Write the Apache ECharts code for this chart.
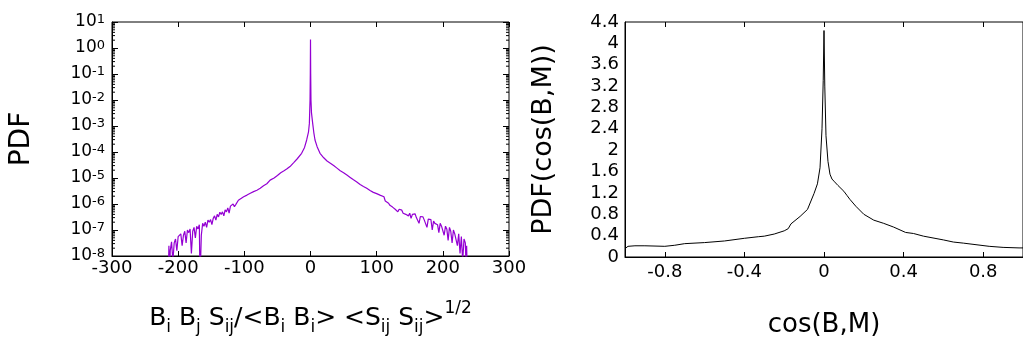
<!DOCTYPE html>
<html>
<head>
<meta charset="utf-8">
<script src="https://cdn.jsdelivr.net/npm/echarts@6/dist/echarts.min.js"></script>
<style>
html,body{margin:0;padding:0;background:#fff;}
#chart{width:1023px;height:343px;}
</style>
</head>
<body>
<div id="chart"></div>
<script>
// ---- Left panel: PDF of B_i B_j S_ij / ... (log scale) ----
const leftX = [
  -215, -214, -213, -212, -210, -208, -206, -204, -202, -200, -198, -196, -194, -192, -190, -188, -186, -184, -182, -180,
  -178, -176, -174, -172, -170, -168, -167, -165, -163, -161, -159, -157, -155, -153, -151, -149, -147, -145, -143, -141,
  -139, -137, -135, -133, -131, -129, -127, -125, -123, -121, -119, -117, -115, -113, -111, -109, -106, -101, -96, -91,
  -86, -81, -76, -71, -66, -61, -55, -50, -45, -40, -36, -31, -25, -20, -13.4, -9, -5.8, -3, -1.7, -0.7, -0.3,
  0,
  0.3, 0.7, 1.5, 3.3, 5, 6.8, 10, 14.4, 20, 25, 30, 35, 40, 45, 50, 55, 60, 65, 70, 75, 80, 85, 90, 95, 100, 105, 108, 111,
  113, 116, 118, 120, 122, 124, 126, 128, 130, 132, 134, 136, 138, 140, 142, 144, 146, 148, 150, 152, 154, 156, 158, 160,
  162, 164, 166, 168, 170, 172, 174, 176, 178, 180, 182, 184, 186, 188, 190, 192, 194, 196, 198, 200, 202, 204, 206, 208,
  210, 212, 214, 216, 218, 220, 222, 224, 226, 228, 230, 232, 234, 235, 236, 237
];
const leftPdf = [
  1e-9, 2.5e-8, 1e-9, 1.6e-8, 3.5e-8, 6.3e-9, 3.2e-8, 4.5e-8, 1.6e-8, 5.6e-8, 5e-8, 7.1e-8, 2.5e-8, 6.3e-8, 8.9e-8, 3.2e-8, 1e-7, 7.9e-8, 1.1e-7, 1.26e-8,
  8.9e-8, 1.26e-7, 5e-8, 1.4e-7, 1.1e-7, 1.6e-7, 1e-9, 6.3e-8, 1.8e-7, 1.4e-7, 2e-7, 1.26e-7, 2.4e-7, 2e-7, 2.5e-7, 1.6e-7, 2.8e-7, 3.5e-7, 2.4e-7, 4e-7,
  3.2e-7, 4.8e-7, 4e-7, 5e-7, 3.5e-7, 6e-7, 5e-7, 7.1e-7, 4.5e-7, 8.3e-7, 7.1e-7, 1e-6, 7.9e-7, 9.5e-7, 1e-6, 1.4e-6, 1.6e-6, 1.9e-6, 2.2e-6, 2.6e-6,
  3e-6, 3.4e-6, 4e-6, 5e-6, 6e-6, 8.3e-6, 1e-5, 1.25e-5, 1.6e-5, 1.9e-5, 2.2e-5, 2.75e-5, 4e-5, 5.5e-5, 8.9e-5, 1.5e-4, 2.9e-4, 6e-4, 1.26e-3, 0.01, 0.1,
  2.1,
  0.1, 0.01, 3.2e-3, 1.26e-3, 5.6e-4, 2.9e-4, 1.6e-4, 8.9e-5, 6e-5, 4.5e-5, 3.7e-5, 3e-5, 2.4e-5, 1.9e-5, 1.6e-5, 1.3e-5, 1.05e-5, 8.5e-6, 7e-6, 5.6e-6, 4.7e-6, 4e-6, 3.3e-6, 2.8e-6, 2.5e-6, 2.2e-6, 2.1e-6, 1.9e-6,
  1.3e-6, 1.2e-6, 1.07e-6, 8.9e-7, 9.5e-7, 7.6e-7, 8.3e-7, 6.3e-7, 7.1e-7, 5e-7, 6.3e-7, 5.4e-7, 5.8e-7, 4.4e-7, 5.2e-7, 4e-7, 4.7e-7, 3.5e-7, 4.4e-7, 2.8e-7, 4e-7, 3.5e-7, 4.2e-7, 3e-7,
  3.5e-7, 1.8e-7, 3.3e-7, 2.8e-7, 3.2e-7, 2.4e-7, 2.8e-7, 1.26e-7, 2.6e-7, 2.2e-7, 2.5e-7, 1e-7, 2.2e-7, 1.8e-7, 2.1e-7, 1.6e-7, 7.9e-8, 1.8e-7, 1.4e-7, 1.6e-7, 6.3e-8, 1.4e-7, 1.1e-7, 4e-8,
  1.26e-7, 8.9e-8, 3.2e-8, 1e-7, 7.1e-8, 7.9e-8, 2.5e-8, 7.1e-8, 1.26e-8, 5.6e-8, 6.3e-9, 4.5e-8, 3.2e-8, 5e-9, 2.5e-8, 1e-9
];

// ---- Right panel: PDF(cos(B,M)) ----
const cosX = [
  -1, -0.985, -0.95, -0.9, -0.8, -0.75, -0.7, -0.6, -0.5, -0.4, -0.33, -0.3, -0.25, -0.2, -0.18, -0.166, -0.12, -0.083, -0.05,
  -0.033, -0.02, -0.01, -0.004, 0, 0.004, 0.01, 0.02, 0.03, 0.04, 0.05, 0.058, 0.07, 0.1, 0.116, 0.13, 0.16, 0.2, 0.25, 0.3,
  0.35, 0.41, 0.45, 0.5, 0.6, 0.65, 0.7, 0.83, 0.9, 0.98, 1
];
const cosPdf = [
  0.157, 0.2, 0.21, 0.21, 0.2, 0.22, 0.25, 0.27, 0.3, 0.35, 0.38, 0.39, 0.43, 0.49, 0.53, 0.62, 0.76, 0.89, 1.19,
  1.37, 1.67, 2.4, 3.3, 4.24, 3.2, 2.27, 1.79, 1.55, 1.46, 1.42, 1.4, 1.34, 1.23, 1.15, 1.08, 0.95, 0.8, 0.69, 0.63,
  0.56, 0.46, 0.44, 0.39, 0.32, 0.28, 0.26, 0.2, 0.18, 0.17, 0.17
];
const cosXTicks = [-0.8, -0.4, 0, 0.4, 0.8];

const FONT = 'DejaVu Sans';
const chart = echarts.init(document.getElementById('chart'), null, {renderer: 'canvas'});

const leftData = leftX.map((x, i) => [x, leftPdf[i]]);
const rightData = cosX.map((x, i) => [x, cosPdf[i]]);

// minor tick positions for log axis (2..9 x 10^k)
const minorVals = [];
for (let k = -8; k <= 0; k++) for (let m = 2; m <= 9; m++) minorVals.push([0, m * Math.pow(10, k)]);

const supLabel = v => {
  const e = Math.round(Math.log10(v));
  return '{a|10}{b|' + e + '}';
};

const option = {
  animation: false,
  backgroundColor: '#fff',
  grid: [
    {left: 112, top: 22, width: 397, height: 234, show: true, borderColor: '#000', borderWidth: 1, backgroundColor: 'transparent'},
    {left: 625, top: 22, width: 403, height: 244, show: true, borderColor: '#000', borderWidth: 1, backgroundColor: 'transparent'}
  ],
  xAxis: [
    {
      gridIndex: 0, type: 'value', min: -300, max: 300, interval: 100, position: 'bottom',
      axisLine: {show: true, onZero: false, lineStyle: {color: '#000', width: 1}},
      axisTick: {show: true, inside: true, length: 5, lineStyle: {color: '#000'}},
      axisLabel: {color: '#000', fontFamily: FONT, fontSize: 18, margin: 3},
      splitLine: {show: false},
      name: '{m|B}{s|i}{m| B}{s|j}{m| S}{s|ij}{m|/<B}{s|i}{m| B}{s|i}{m|> <S}{s|ij}{m| S}{s|ij}{m|>}{p|1/2}',
      nameLocation: 'middle', nameGap: 44,
      nameTextStyle: {
        color: '#000', fontFamily: FONT,
        rich: {
          m: {fontSize: 25, lineHeight: 36, verticalAlign: 'middle', fontFamily: FONT, color: '#000'},
          s: {fontSize: 17, lineHeight: 17, verticalAlign: 'bottom', fontFamily: FONT, color: '#000'},
          p: {fontSize: 17, lineHeight: 17, verticalAlign: 'top', fontFamily: FONT, color: '#000'}
        }
      }
    },
    {
      gridIndex: 0, type: 'value', min: -300, max: 300, interval: 100, position: 'top',
      axisLine: {show: false, onZero: false},
      axisTick: {show: true, inside: true, length: 5, lineStyle: {color: '#000'}},
      axisLabel: {show: false}, splitLine: {show: false}
    },
    {
      gridIndex: 1, type: 'value', min: -1, max: 1, position: 'bottom',
      axisLine: {show: true, onZero: false, lineStyle: {color: '#000', width: 1}},
      axisTick: {show: true, inside: true, length: 5, customValues: cosXTicks, lineStyle: {color: '#000'}},
      axisLabel: {color: '#000', fontFamily: FONT, fontSize: 18, margin: 6, customValues: cosXTicks},
      splitLine: {show: false},
      name: 'cos(B,M)', nameLocation: 'middle', nameGap: 55,
      nameTextStyle: {color: '#000', fontFamily: FONT, fontSize: 26}
    },
    {
      gridIndex: 1, type: 'value', min: -1, max: 1, position: 'top',
      axisLine: {show: false, onZero: false},
      axisTick: {show: true, inside: true, length: 5, customValues: cosXTicks, lineStyle: {color: '#000'}},
      axisLabel: {show: false}, splitLine: {show: false}
    }
  ],
  yAxis: [
    {
      gridIndex: 0, type: 'log', logBase: 10, min: 1e-8, max: 10, interval: 1, position: 'left',
      axisLine: {show: true, onZero: false, lineStyle: {color: '#000', width: 1}},
      axisTick: {show: true, inside: true, length: 6, lineStyle: {color: '#000'}},
      axisLabel: {
        color: '#000', fontFamily: FONT, margin: 7, formatter: supLabel,
        rich: {
          a: {fontSize: 17, lineHeight: 17, padding: [8, 0, 0, 0], verticalAlign: 'bottom', fontFamily: FONT, color: '#000'},
          b: {fontSize: 13, lineHeight: 13, verticalAlign: 'top', fontFamily: FONT, color: '#000'}
        }
      },
      splitLine: {show: false},
      name: 'PDF', nameLocation: 'middle', nameGap: 76, nameRotate: 90,
      nameTextStyle: {color: '#000', fontFamily: FONT, fontSize: 28}
    },
    {
      gridIndex: 0, type: 'log', logBase: 10, min: 1e-8, max: 10, interval: 1, position: 'right',
      axisLine: {show: false, onZero: false},
      axisTick: {show: true, inside: true, length: 6, lineStyle: {color: '#000'}},
      axisLabel: {show: false}, splitLine: {show: false}
    },
    {
      gridIndex: 1, type: 'value', min: 0, max: 4.4, interval: 0.4, position: 'left',
      axisLine: {show: true, onZero: false, lineStyle: {color: '#000', width: 1}},
      axisTick: {show: false},
      axisLabel: {color: '#000', fontFamily: FONT, fontSize: 18, margin: 6},
      splitLine: {show: false},
      name: 'PDF(cos(B,M))', nameLocation: 'middle', nameGap: 68, nameRotate: 90,
      nameTextStyle: {color: '#000', fontFamily: FONT, fontSize: 27}
    }
  ],
  series: [
    {
      type: 'line', xAxisIndex: 0, yAxisIndex: 0, data: leftData,
      showSymbol: false, symbol: 'none', clip: true,
      lineStyle: {color: '#9400d3', width: 1.2}
    },
    {
      type: 'custom', xAxisIndex: 0, yAxisIndex: 0, data: minorVals, silent: true, clip: false,
      renderItem: function (params, api) {
        const y = api.coord([0, api.value(1)])[1];
        const xl = api.coord([-300, api.value(1)])[0];
        const xr = api.coord([300, api.value(1)])[0];
        return {
          type: 'group',
          children: [
            {type: 'line', shape: {x1: xl, y1: y, x2: xl + 3, y2: y}, style: {stroke: '#000', lineWidth: 1}},
            {type: 'line', shape: {x1: xr - 3, y1: y, x2: xr, y2: y}, style: {stroke: '#000', lineWidth: 1}}
          ]
        };
      }
    },
    {
      type: 'line', xAxisIndex: 2, yAxisIndex: 2, data: rightData,
      showSymbol: false, symbol: 'none', clip: true,
      lineStyle: {color: '#000', width: 1}
    }
  ]
};
chart.setOption(option);
</script>
</body>
</html>
